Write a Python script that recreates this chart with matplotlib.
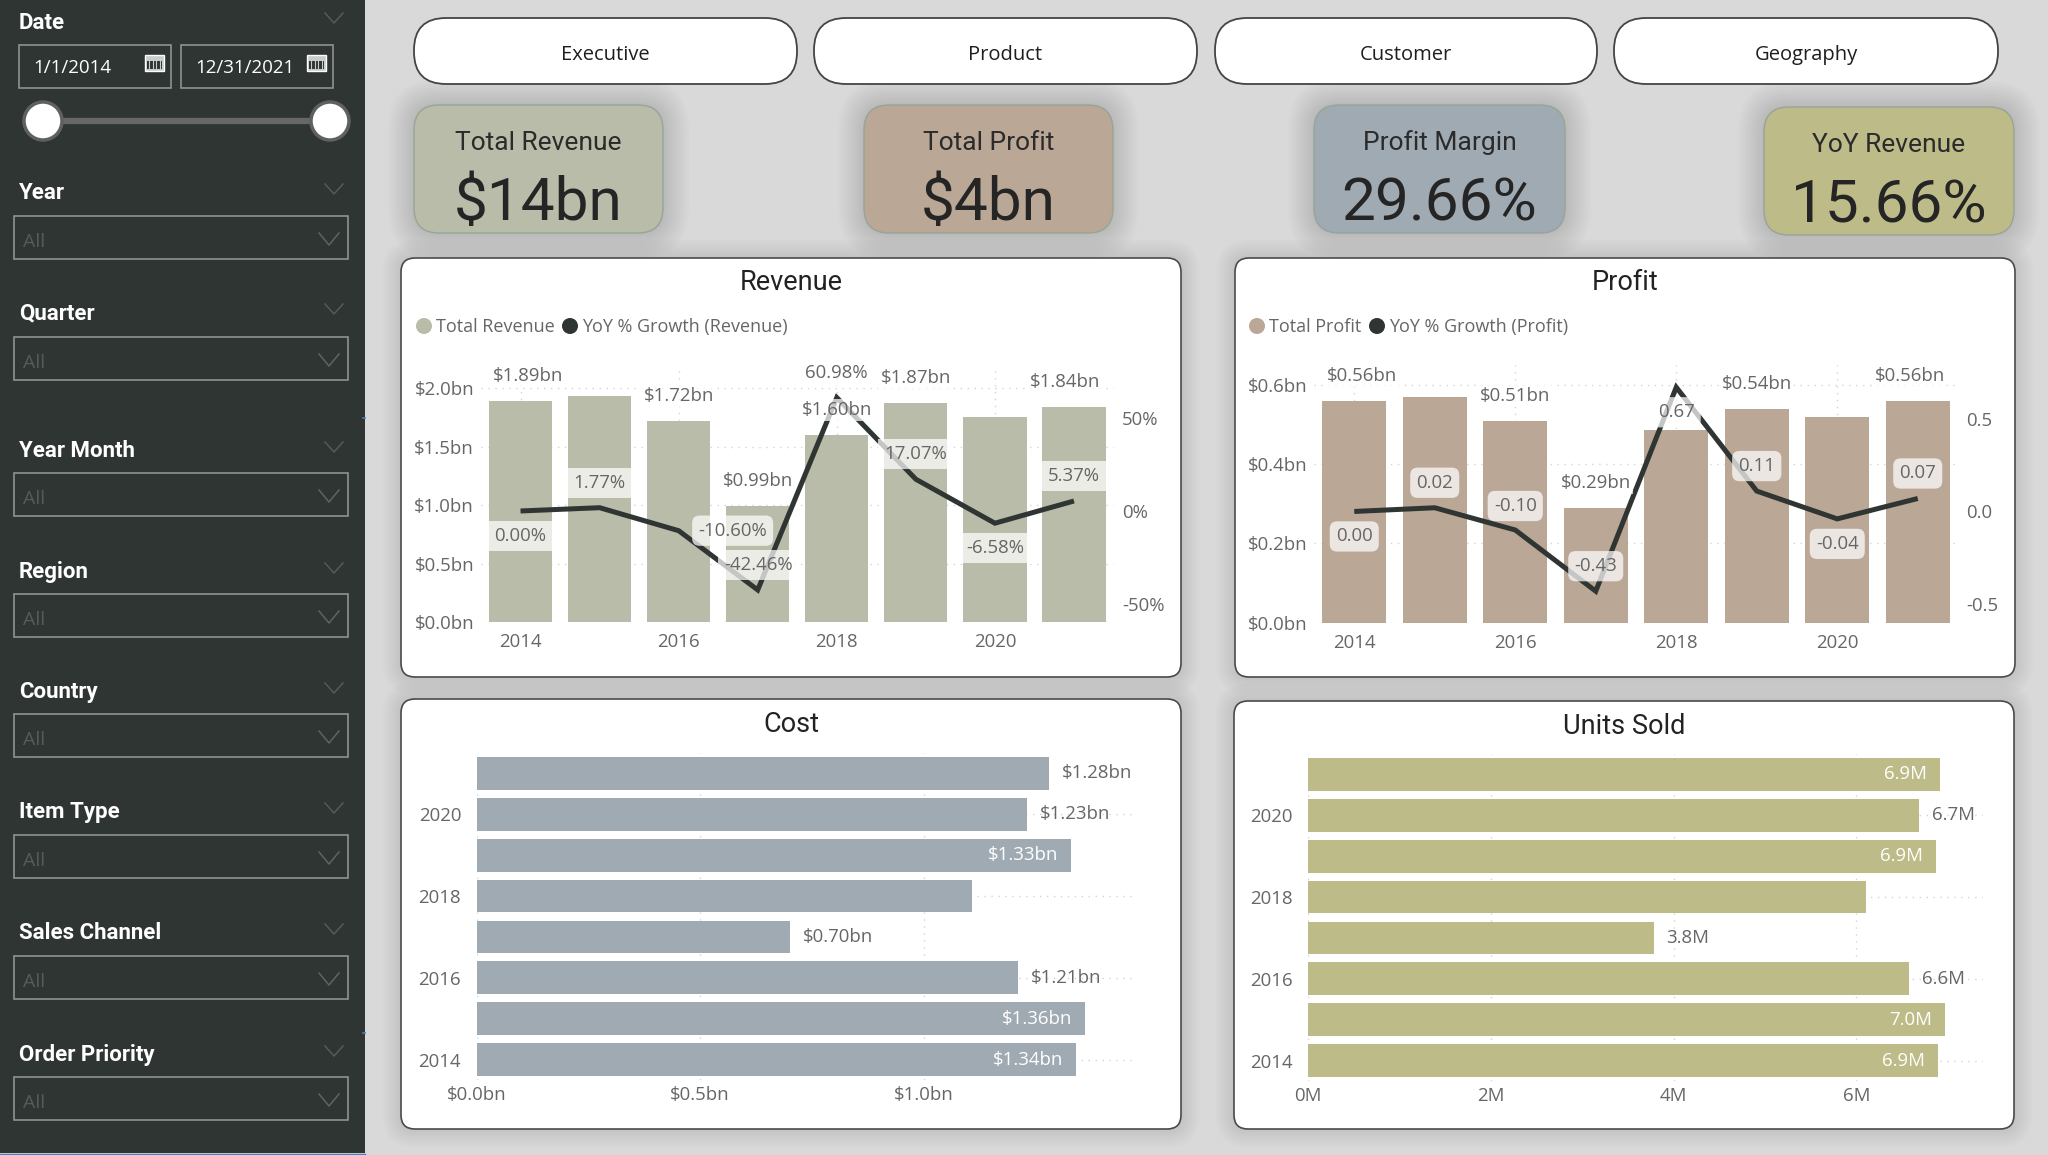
import matplotlib
matplotlib.use('Agg')
import matplotlib.pyplot as plt
from matplotlib.patches import FancyBboxPatch, Rectangle, Circle

W, H = 2048, 1155
plt.rcParams['font.family'] = ['Open Sans', 'DejaVu Sans']
TITLE_FONT = ['Roboto', 'DejaVu Sans']

# data
years = [2014, 2015, 2016, 2017, 2018, 2019, 2020, 2021]
revenue = [1.89, 1.93, 1.72, 0.99, 1.60, 1.87, 1.75, 1.84]
revenue_growth = [0.00, 1.77, -10.60, -42.46, 60.98, 17.07, -6.58, 5.37]
revenue_shown = ['$1.89bn', '', '$1.72bn', '$0.99bn', '$1.60bn', '$1.87bn', '', '$1.84bn']
profit = [0.56, 0.57, 0.51, 0.29, 0.487, 0.54, 0.52, 0.56]
profit_growth = [0.00, 0.02, -0.10, -0.43, 0.67, 0.11, -0.04, 0.07]
profit_shown = ['$0.56bn', '', '$0.51bn', '$0.29bn', '', '$0.54bn', '', '$0.56bn']
cost = [1.34, 1.36, 1.21, 0.70, 1.107, 1.33, 1.23, 1.28]
cost_shown = ['$1.34bn', '$1.36bn', '$1.21bn', '$0.70bn', '', '$1.33bn', '$1.23bn', '$1.28bn']
cost_inside = [True, True, False, False, False, True, False, False]
units = [6.89, 6.97, 6.58, 3.78, 6.10, 6.87, 6.68, 6.91]
units_shown = ['6.9M', '7.0M', '6.6M', '3.8M', '', '6.9M', '6.7M', '6.9M']
units_inside = [True, True, False, False, False, True, False, True]

buttons = ['Executive', 'Product', 'Customer', 'Geography']
kpi_titles = ['Total Revenue', 'Total Profit', 'Profit Margin', 'YoY Revenue']
kpi_values = ['$14bn', '$4bn', '29.66%', '15.66%']
slicers = ['Year', 'Quarter', 'Year Month', 'Region', 'Country', 'Item Type', 'Sales Channel', 'Order Priority']

# colours
SIDE = '#2F3532'
BACK = '#D9D9D9'
GREY = '#666666'
GRID = '#D4D4D4'
REV_COL = '#B9BCA8'
PROF_COL = '#BAA796'
COST_COL = '#A0AAB2'
UNIT_COL = '#BDBC88'
BLUE = '#3F7FC4'

fig = plt.figure(figsize=(W / 100, H / 100), dpi=100, facecolor=BACK)
bg = fig.add_axes([0, 0, 1, 1])
bg.set_xlim(0, W)
bg.set_ylim(H, 0)
bg.axis('off')


def rounded(x0, y0, x1, y1, r, fc, ec='none', lw=1.0, z=2, alpha=None):
    p = FancyBboxPatch((x0 + r, y0 + r), x1 - x0 - 2 * r, y1 - y0 - 2 * r,
                       boxstyle='round,pad=%f,rounding_size=%f' % (r, r),
                       fc=fc, ec=ec, lw=lw, zorder=z, alpha=alpha)
    bg.add_patch(p)


def shadow(x0, y0, x1, y1, r, steps=10):
    # stack of faint boxes, looks like a blurred drop shadow
    for k in range(steps, 0, -1):
        g = k * 2.6
        rounded(x0 - g, y0 - g, x1 + g, y1 + g, r + g, 'black', z=1, alpha=0.013)


def chevron(cx, cy, w, h, col, lw=1.1):
    bg.plot([cx - w, cx, cx + w], [cy - h, cy + h, cy - h], color=col, lw=lw, zorder=4)


# sidebar
bg.add_patch(Rectangle((0, 0), 365, 1153, fc=SIDE, ec='none', zorder=2))
bg.plot([0, 365], [1153.5, 1153.5], color=BLUE, lw=1.0, zorder=3)
for my in (418, 1033):
    bg.plot([363, 365], [my, my], color=BLUE, lw=1.2, zorder=3)
bg.text(19, 23, 'Date', color='white', fontsize=16, family=TITLE_FONT, weight='bold', va='center', zorder=4)
chevron(334, 18, 9, 5, '#565B58')
for x0, x1, txt in [(19, 171, '1/1/2014'), (181, 333, '12/31/2021')]:
    bg.add_patch(Rectangle((x0, 45), x1 - x0, 43, fc='none', ec='#8F9391', lw=1.2, zorder=4))
    bg.text(x0 + 14, 68, txt, color='white', fontsize=13.5, va='center', zorder=4)
    # calendar icon
    bg.add_patch(Rectangle((x1 - 26, 55), 19, 16, fc='#C9CDCB', ec='white', lw=1.0, zorder=4))
    bg.add_patch(Rectangle((x1 - 24, 61), 15, 8, fc=SIDE, ec='none', zorder=5))
    for gx in range(4):
        bg.plot([x1 - 22 + gx * 3.5] * 2, [61, 69], color='#C9CDCB', lw=0.8, zorder=6)
bg.plot([43, 330], [121, 121], color='#666866', lw=4.5, zorder=3)
for cx in (43, 330):
    bg.add_patch(Circle((cx, 121), 19, fc='white', ec='#5F615F', lw=2.5, zorder=4))

label_y = [193, 313, 451, 572, 692, 812, 933, 1055]
box_top = [216, 337, 473, 594, 714, 835, 956, 1077]
for name, ly, by in zip(slicers, label_y, box_top):
    bg.text(19, ly, name, color='white', fontsize=16, family=TITLE_FONT, weight='bold', va='center', zorder=4)
    chevron(334, ly - 4, 9, 5, '#565B58')
    bg.add_patch(Rectangle((14, by), 334, 43, fc='none', ec='#8F9391', lw=1.2, zorder=4))
    bg.text(23, by + 26, 'All', color='#565B58', fontsize=14, va='center', zorder=4)
    chevron(329, by + 23, 10, 6, '#5F6461')

# nav buttons
button_x = [(414, 797), (814, 1197), (1215, 1597), (1614, 1998)]
for (x0, x1), name in zip(button_x, buttons):
    rounded(x0, 18, x1, 84, 32, 'white', ec='#444444', lw=1.3, z=3)
    bg.text((x0 + x1) / 2, 55, name, color='#1E1E1E', fontsize=14.5, ha='center', va='center', zorder=4)

# kpi cards
kpi_x = [(414, 663), (864, 1113), (1314, 1565), (1764, 2014)]
kpi_y = [105, 105, 105, 107]
kpi_cols = [REV_COL, PROF_COL, COST_COL, UNIT_COL]
for (x0, x1), y0, col, t, v in zip(kpi_x, kpi_y, kpi_cols, kpi_titles, kpi_values):
    shadow(x0, y0, x1, y0 + 128, 25)
    rounded(x0, y0, x1, y0 + 128, 25, col, ec='#95A596', lw=1.0, z=3)
    bg.text((x0 + x1) / 2, y0 + 38, t, color='#2B2B2B', fontsize=19, family=TITLE_FONT,
            ha='center', va='center', zorder=4)
    bg.text((x0 + x1) / 2, y0 + 99, v, color='#252525', fontsize=43.5, family=TITLE_FONT,
            ha='center', va='center', zorder=4)

# white chart cards
cards = [(401, 258, 1181, 677, 'Revenue', 283),
         (1235, 258, 2015, 677, 'Profit', 283),
         (401, 699, 1181, 1129, 'Cost', 724),
         (1234, 701, 2014, 1129, 'Units Sold', 726)]
for x0, y0, x1, y1, title, ty in cards:
    shadow(x0, y0, x1, y1, 14, steps=7)
    rounded(x0, y0, x1, y1, 14, 'white', ec='#4A4A4A', lw=1.2, z=3)
    bg.text((x0 + x1) / 2, ty, title, color='#222222', fontsize=19.5, family=TITLE_FONT,
            ha='center', va='center', zorder=4)

# legends of the two combo charts
legend_y = 327
for cx, tx, col, txt in [(424, 436, REV_COL, 'Total Revenue'), (570, 582, SIDE, 'YoY % Growth (Revenue)'),
                         (1257, 1269, PROF_COL, 'Total Profit'), (1377, 1389, SIDE, 'YoY % Growth (Profit)')]:
    bg.add_patch(Circle((cx, legend_y - 1), 8, fc=col, ec='none', zorder=4))
    bg.text(tx, legend_y, txt, color=GREY, fontsize=13, va='center', zorder=4)


def make_axes(left, top, right, bottom):
    ax = fig.add_axes([left / W, 1 - bottom / H, (right - left) / W, (bottom - top) / H])
    ax.patch.set_alpha(0)
    for s in ax.spines.values():
        s.set_visible(False)
    ax.set_axisbelow(True)
    ax.grid(True, color=GRID, lw=1.0, linestyle=(0, (1, 4)))
    ax.tick_params(length=0, labelsize=13.4, labelcolor=GREY)
    return ax


def combo(rect, vals, growth, shown, col, ylim, yticks, yfmt, y2lim, y2ticks, y2labels,
          line_labels, line_dy, line_dx, box_styles, bar_dx):
    ax = make_axes(*rect)
    ax.bar(years, vals, width=0.8, color=col)
    ax.set_xlim(2013.5, 2021.5)
    ax.set_ylim(*ylim)
    ax.set_xticks([2014, 2016, 2018, 2020])
    ax.set_yticks(yticks)
    ax.set_yticklabels([yfmt % t for t in yticks])
    ax.tick_params(axis='x', pad=8)
    ax.tick_params(axis='y', pad=5)

    ax2 = ax.twinx()
    ax2.patch.set_alpha(0)
    for s in ax2.spines.values():
        s.set_visible(False)
    ax2.plot(years, growth, color=SIDE, lw=3.6, solid_joinstyle='miter', solid_capstyle='butt', zorder=2)
    ax2.set_ylim(*y2lim)
    ax2.set_yticks(y2ticks)
    ax2.set_yticklabels(y2labels)
    ax2.tick_params(length=0, labelsize=13.4, labelcolor=GREY, pad=6)

    for i, yr in enumerate(years):
        ax2.annotate(line_labels[i], xy=(yr, growth[i]), xytext=(line_dx[i], line_dy[i]),
                     textcoords='offset pixels', ha='center', va='center', color=GREY, fontsize=13.4, zorder=4,
                     bbox=dict(boxstyle=box_styles[i], fc='white', ec='none', alpha=0.72))
    # bar totals sit last, their faint white box also fades the line behind them
    for i, yr in enumerate(years):
        if shown[i]:
            ax2.annotate(shown[i], xy=(yr, vals[i]), xycoords=ax.transData, xytext=(bar_dx[i], 25),
                         textcoords='offset pixels', ha='center', va='center', color=GREY,
                         fontsize=13.4, zorder=5,
                         bbox=dict(boxstyle='square,pad=0.12', fc='white', ec='none', alpha=0.72))


def hbars(rect, vals, shown, inside, col, xlim, xticks, xlabels):
    ax = make_axes(*rect)
    ax.barh(years, vals, height=0.8, color=col)
    ax.set_ylim(2013.5, 2021.5)
    ax.set_xlim(*xlim)
    ax.set_yticks([2014, 2016, 2018, 2020])
    ax.set_xticks(xticks)
    ax.set_xticklabels(xlabels)
    ax.tick_params(axis='x', pad=4.5)
    ax.tick_params(axis='y', pad=11)
    for i, yr in enumerate(years):
        if not shown[i]:
            continue
        if inside[i]:
            ax.annotate(shown[i], xy=(vals[i], yr), xytext=(-13, 0), textcoords='offset pixels',
                        ha='right', va='center', color='white', fontsize=13.4)
        else:
            ax.annotate(shown[i], xy=(vals[i], yr), xytext=(13, 0), textcoords='offset pixels',
                        ha='left', va='center', color=GREY, fontsize=13.4)


square = 'square,pad=0.33'
soft = 'round,pad=0.33,rounding_size=0.4'
combo((481, 365, 1113.5, 622), revenue, revenue_growth, revenue_shown, REV_COL,
      (0, 2.197), [0, 0.5, 1.0, 1.5, 2.0], '$%.1fbn',
      (-0.597 * 100, 0.785 * 100), [-50, 0, 50], ['-50%', '0%', '50%'],
      ['%.2f%%' % g for g in revenue_growth],
      [-25, 25, 0, 25, 25, 25, -25, 25], [0, 0, 54, 1, 0, 0, 0, 0],
      [square, square, soft, square, square, square, square, square],
      [8, 0, 0, 0, 0, 0, 0, -9])
combo((1314, 365, 1958, 622.7), profit, profit_growth, profit_shown, PROF_COL,
      (0, 0.65), [0, 0.2, 0.4, 0.6], '$%.1fbn',
      (-0.6, 0.79), [-0.5, 0, 0.5], ['-0.5', '0.0', '0.5'],
      ['%.2f' % g for g in profit_growth],
      [-25, 25, 24, 25, -25, 25, -25, 25], [0] * 8,
      [soft] * 8,
      [8, 0, 0, 0, 0, 0, 0, -8])
hbars((476.5, 753, 1135, 1080), cost, cost_shown, cost_inside, COST_COL,
      (0, 1.472), [0, 0.5, 1.0], ['$0.0bn', '$0.5bn', '$1.0bn'])
hbars((1308, 754, 1982.6, 1081), units, units_shown, units_inside, UNIT_COL,
      (0, 7.38), [0, 2, 4, 6], ['0M', '2M', '4M', '6M'])

fig.savefig('out.png', dpi=100, facecolor=BACK)
